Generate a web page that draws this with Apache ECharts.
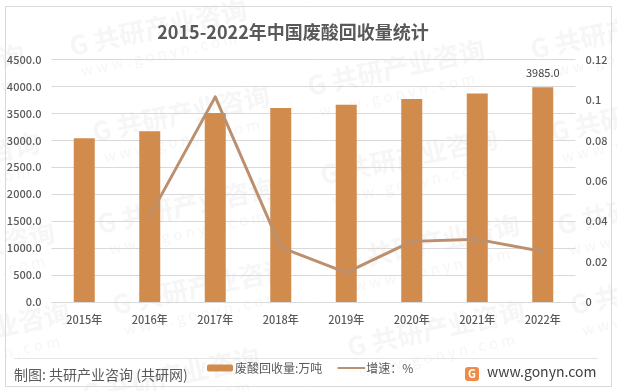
<!DOCTYPE html>
<html>
<head>
<meta charset="utf-8">
<style>
  html, body { margin: 0; padding: 0; background: #fff; }
  #chart { width: 617px; height: 391px; }
</style>
<script src="https://cdn.jsdelivr.net/npm/echarts@6/dist/echarts.min.js"></script>
</head>
<body>
<div id="chart"></div>
<script>
const years = ['2015年', '2016年', '2017年', '2018年', '2019年', '2020年', '2021年', '2022年'];
const recycled = [3040, 3170, 3505, 3600, 3660, 3765, 3870, 3985];
const growth = [null, 0.0425, 0.1015, 0.027, 0.0145, 0.03, 0.031, 0.025];
const FONT = '"Noto Sans CJK SC", sans-serif';
const TEXT = '#595959';

// 水印位置
const marks = [[72, 57], [310, 97], [95, 143], [533, 60], [323, 186], [100, 235], [553, 143],
  [115, 316], [350, 358], [560, 236], [573, 316], [345, 272], [-150, 102], [-135, 190], [-120, 280], [-105, 360], [85, 405]];

const watermark = [];
marks.forEach(([x, y]) => {
  watermark.push({
    type: 'group', x: x, y: y, rotation: 0.21, silent: true, z: -1,
    children: [
      { type: 'text', x: 0, y: -24, z: -1, style: { text: 'G 共研产业咨询', font: 'bold 26px ' + FONT, fill: '#f6f6f6' } },
      { type: 'text', x: 6, y: 8, z: -1, style: { text: 'w w w . g o n y n . c o m', font: '15px ' + FONT, fill: '#f6f6f6' } }
    ]
  });
});

const chart = echarts.init(document.getElementById('chart'));
chart.setOption({
  animation: false,
  backgroundColor: '#fff',
  textStyle: { fontFamily: FONT },
  title: {
    text: '2015-2022年中国废酸回收量统计',
    left: 288, top: 18, textAlign: 'center',
    textStyle: { fontSize: 18, fontWeight: 'bold', color: TEXT, fontFamily: FONT }
  },
  grid: { left: 51.5, right: 41.5, top: 59.5, bottom: 89, containLabel: false },
  legend: {
    top: 357, left: 202, itemGap: 15, itemWidth: 26, itemHeight: 7,
    textStyle: { fontSize: 12, color: TEXT, fontFamily: FONT, padding: [0, 0, 0, -3] },
    data: ['废酸回收量:万吨', { name: '增速：%', itemStyle: { opacity: 0 } }]
  },
  xAxis: {
    type: 'category', data: years,
    axisTick: { show: false },
    axisLine: { lineStyle: { color: '#d9d9d9' } },
    axisLabel: { color: TEXT, fontSize: 11, fontWeight: 500, margin: 12, fontFamily: FONT }
  },
  yAxis: [
    {
      type: 'value', min: 0, max: 4500, interval: 500,
      axisLine: { show: false }, axisTick: { show: false },
      splitLine: { lineStyle: { color: '#d9d9d9', width: 1 } },
      axisLabel: { color: TEXT, fontSize: 11, fontWeight: 500, margin: 10, fontFamily: FONT, formatter: v => v.toFixed(1) }
    },
    {
      type: 'value', min: 0, max: 0.12, interval: 0.02,
      axisLine: { show: false }, axisTick: { show: false }, splitLine: { show: false },
      axisLabel: { color: TEXT, fontSize: 11, fontWeight: 500, margin: 10, fontFamily: FONT }
    }
  ],
  series: [
    {
      name: '废酸回收量:万吨', type: 'bar', barWidth: 21, z: 2,
      itemStyle: { color: '#d18b4d' },
      data: recycled,
      label: {
        show: true, position: 'top', distance: 9, color: '#404040', fontSize: 11, fontFamily: FONT,
        formatter: p => p.dataIndex === years.length - 1 ? p.value.toFixed(1) : ''
      }
    },
    {
      name: '增速：%', type: 'line', yAxisIndex: 1, z: 3,
      symbol: 'none', connectNulls: false,
      lineStyle: { color: '#bc8f6f', width: 3, cap: 'round', join: 'round' },
      itemStyle: { color: '#bc8f6f' },
      data: growth
    }
  ],
  graphic: watermark.concat([
    { type: 'rect', silent: true, z: 1, shape: { x: 5.5, y: 6.5, width: 606, height: 380 }, style: { fill: 'none', stroke: '#d9d9d9', lineWidth: 1 } },
    { type: 'line', silent: true, z: 1, shape: { x1: 14, y1: 358.5, x2: 598, y2: 358.5 }, style: { stroke: '#e4e4e4', lineWidth: 1 } },
    { type: 'text', z: 5, x: 14, y: 368, style: { text: '制图: 共研产业咨询 (共研网)', font: '14px ' + FONT, fill: TEXT } },
    { type: 'rect', z: 5, shape: { x: 465, y: 367, width: 14, height: 14, r: 3 }, style: { fill: '#f08a45' } },
    { type: 'text', z: 6, x: 472, y: 374, style: { text: 'G', font: 'bold 11px ' + FONT, fill: '#fff', align: 'center', verticalAlign: 'middle' } },
    { type: 'text', z: 5, x: 487, y: 365, style: { text: 'www.gonyn.com', font: '14px ' + FONT, fill: '#404040' } }
  ])
});
</script>
</body>
</html>
